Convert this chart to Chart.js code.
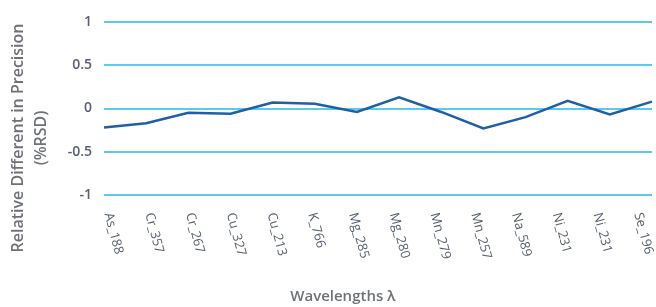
<!DOCTYPE html>
<html>
<head>
<meta charset="utf-8">
<script src="https://cdn.jsdelivr.net/npm/chart.js@4"></script>
<style>
  html, body { margin: 0; padding: 0; background: #ffffff; }
  #wrap { width: 656px; height: 307px; position: relative; }
</style>
</head>
<body>
<div id="wrap"><canvas id="precisionChart"></canvas></div>
<script>
// wavelength categories along the x axis
const wavelengths = [
  "As_188", "Cr_357", "Cr_267", "Cu_327", "Cu_213", "K_766", "Mg_285",
  "Mg_280", "Mn_279", "Mn_257", "Na_589", "Ni_231", "Ni_231", "Se_196"
];

// relative difference in precision (%RSD)
const rsdDiff = [
  -0.22, -0.17, -0.05, -0.06, 0.07, 0.055, -0.04,
  0.13, -0.04, -0.23, -0.10, 0.09, -0.07, 0.08
];

const yTicks = [1, 0.5, 0, -0.5, -1];

const yTitleLines = ["Relative Different in Precision", "(%RSD)"];
const xTitle = "Wavelengths λ";

/* ===============================
   Theme
   =============================== */
const lineBlue = "#1f5fa6";
const gridCyan = "#5ccbeb";
const tickGrey = "#586070";
const titleGrey = "#6e7176";
const fontFamily = "'Open Sans', sans-serif";

/* custom labels: rotated clockwise tick text + axis titles */
const customLabels = {
  id: "customLabels",
  afterDraw(chart) {
    const ctx = chart.ctx;
    const xs = chart.scales.x;
    const area = chart.chartArea;

    ctx.save();
    ctx.fillStyle = tickGrey;
    ctx.font = "500 13px " + fontFamily;
    ctx.textAlign = "left";
    ctx.textBaseline = "middle";
    wavelengths.forEach((label, i) => {
      // labels in the source sit on a slightly tighter pitch than the points
      const px = area.left + (xs.getPixelForTick(i) - area.left) * 0.967;
      ctx.save();
      ctx.translate(px + 4, area.bottom + 18);
      ctx.rotate((75 * Math.PI) / 180);
      ctx.fillText(label, 0, 0);
      ctx.restore();
    });

    // x axis title
    ctx.fillStyle = titleGrey;
    ctx.font = "600 15px " + fontFamily;
    ctx.textAlign = "center";
    ctx.textBaseline = "middle";
    ctx.fillText(xTitle, 343, 297);

    // y axis title, two lines
    ctx.font = "600 16px " + fontFamily;
    [18, 41].forEach((x, i) => {
      ctx.save();
      ctx.translate(x, 138);
      ctx.rotate(-Math.PI / 2);
      ctx.fillText(yTitleLines[i], 0, 0);
      ctx.restore();
    });
    ctx.restore();
  }
};

new Chart(document.getElementById("precisionChart").getContext("2d"), {
  type: "line",
  data: {
    labels: wavelengths,
    datasets: [
      {
        label: "Relative difference",
        data: rsdDiff,
        borderColor: lineBlue,
        borderWidth: 2.5,
        pointRadius: 0,
        tension: 0,
        fill: false
      }
    ]
  },
  options: {
    responsive: true,
    maintainAspectRatio: false,
    animation: false,
    layout: { padding: { top: 22, right: 4, left: 0, bottom: 0 } },
    plugins: {
      legend: { display: false },
      tooltip: { enabled: false }
    },
    scales: {
      x: {
        type: "category",
        offset: false,
        grid: { display: false, drawTicks: false },
        border: { display: false },
        ticks: { display: false },
        afterFit: scale => { scale.height = 112; }
      },
      y: {
        min: -1,
        max: 1,
        afterBuildTicks: scale => {
          scale.ticks = yTicks.map(v => ({ value: v }));
        },
        grid: { color: gridCyan, lineWidth: 2, drawTicks: false },
        border: { display: false },
        ticks: {
          color: tickGrey,
          padding: 12,
          font: { family: fontFamily, size: 14, weight: "600" },
          callback: v => String(v)
        },
        afterFit: scale => { scale.width = 104; }
      }
    }
  },
  plugins: [customLabels]
});
</script>
</body>
</html>
